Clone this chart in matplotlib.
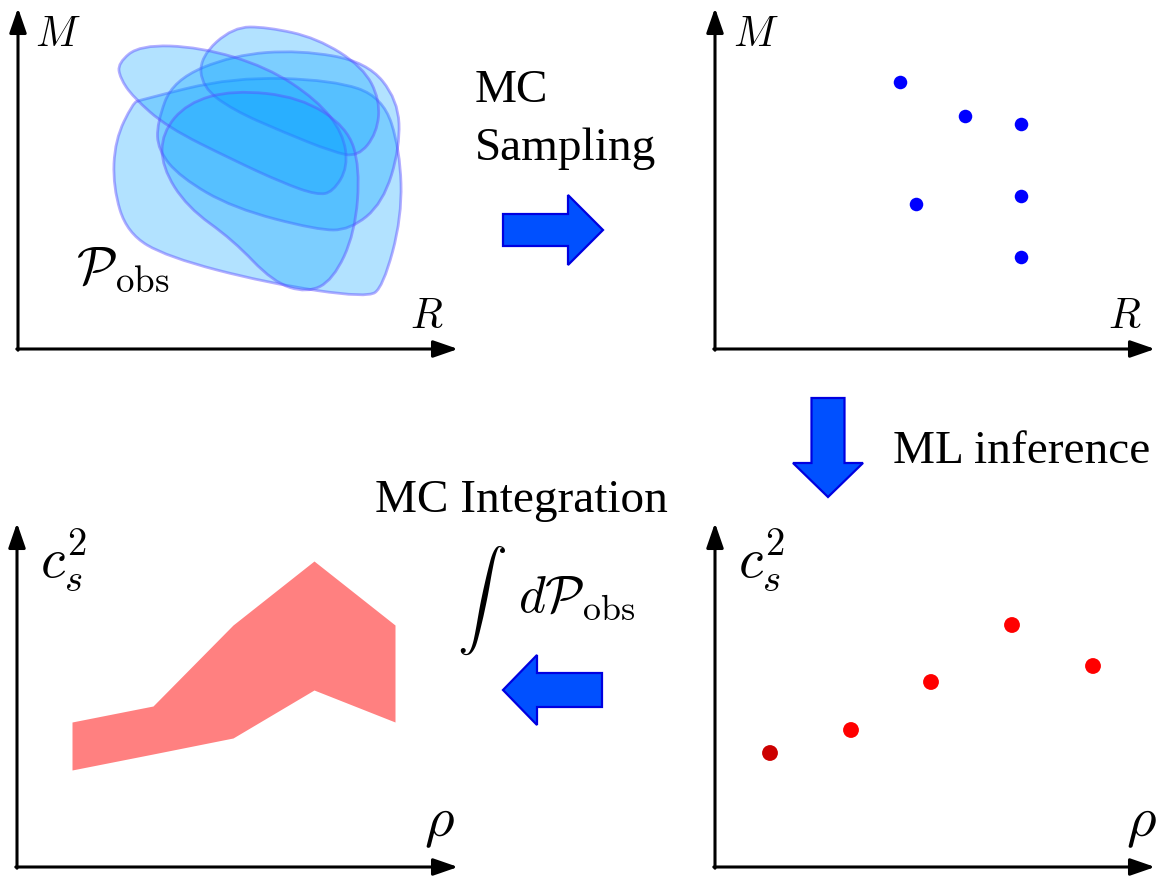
import numpy as np
import matplotlib
matplotlib.use('Agg')
import matplotlib.pyplot as plt
from matplotlib.path import Path
from matplotlib.patches import PathPatch, FancyArrow

plt.rcParams['mathtext.fontset'] = 'cm'
plt.rcParams['font.family'] = ['Liberation Serif', 'DejaVu Serif']

W, H = 1158, 876

# --- top-left: observational posteriors (blob outlines, panel units) ---
blob_outer_x = [122, 215, 315, 365, 382, 384, 365, 349, 249, 149, 109, 95, 97, 115]
blob_outer_y = [249, 272, 269, 252, 199, 132, 62, 51, 66, 92, 116, 162, 209, 246]
blob_long_x = [100, 122, 182, 249, 299, 325, 330, 315, 299, 265, 215, 149, 115, 102]
blob_long_y = [286, 304, 302, 282, 249, 216, 182, 157, 154, 166, 189, 222, 252, 271]
blob_top_x = [215, 182, 184, 215, 265, 315, 340, 359, 362, 345, 299, 249]
blob_top_y = [322, 292, 262, 239, 217, 197, 192, 216, 249, 282, 311, 322]
blob_mid_x = [139, 155, 215, 282, 349, 380, 382, 365, 332, 299, 215, 162, 140]
blob_mid_y = [226, 269, 294, 299, 287, 249, 202, 146, 119, 119, 141, 172, 199]
blob_in_x = [144, 169, 215, 282, 329, 342, 337, 315, 289, 255, 215, 169, 144]
blob_in_y = [216, 246, 259, 252, 222, 182, 116, 69, 56, 67, 109, 142, 182]
blobs = [(blob_outer_x, blob_outer_y), (blob_mid_x, blob_mid_y), (blob_top_x, blob_top_y),
         (blob_long_x, blob_long_y), (blob_in_x, blob_in_y)]

# --- top-right: MC samples in (R, M) ---
samp_R = [185, 250, 306, 201, 306, 306]
samp_M = [267, 233, 225, 145, 153, 92]

# --- bottom: speed of sound vs density ---
rho = [55, 136, 216, 297, 378]
cs2_pred = [114, 137, 185, 242, 201]
cs2_low = [97, 113, 129, 177, 145]
cs2_high = [145, 161, 242, 306, 242]
dot_colors = ['#cc0000', '#ff0000', '#ff0000', '#ff0000', '#ff0000']


def smooth_closed(xs, ys):
    pts = np.column_stack([xs, ys]).astype(float)
    mids = (pts + np.roll(pts, -1, axis=0)) / 2
    verts = [mids[-1]]
    codes = [Path.MOVETO]
    for i in range(len(pts)):
        verts += [pts[i], mids[i]]
        codes += [Path.CURVE3, Path.CURVE3]
    verts.append(mids[-1])
    codes.append(Path.CLOSEPOLY)
    return Path(verts, codes)


def make_panel(left, bottom, w, h):
    ax = fig.add_axes([left / W, (H - bottom) / H, w / W, h / H])
    ax.set_xlim(0, w)
    ax.set_ylim(0, h)
    ax.axis('off')
    style = dict(arrowstyle='-|>,head_length=0.75,head_width=0.26', lw=2.2, color='k',
                 shrinkA=0, shrinkB=0, mutation_scale=20)
    ax.annotate('', xy=(0, h), xytext=(0, -1.2), arrowprops=style, annotation_clip=False)
    ax.annotate('', xy=(w, 0), xytext=(-1.2, 0), arrowprops=style, annotation_clip=False)
    return ax


fig = plt.figure(figsize=(W / 100, H / 100), dpi=100)

ax1 = make_panel(18, 349, 440, 341)
for bx, by in blobs:
    ax1.add_patch(PathPatch(smooth_closed(bx, by), facecolor=(0, 0.63, 1, 0.3),
                            edgecolor=(0.35, 0.3, 1, 0.45), lw=2))

ax2 = make_panel(715, 349, 440, 341)
ax2.scatter(samp_R, samp_M, s=95, color='#0000ff', lw=0, clip_on=False)

ax3 = make_panel(17, 867, 441, 344)
ax3.fill_between(rho, cs2_low, cs2_high, color='#ff8080', lw=0)

ax4 = make_panel(715, 867, 440, 344)
ax4.scatter(rho, cs2_pred, s=130, color=dot_colors, lw=0, clip_on=False)

# overlay in pixel units for arrows and labels
ov = fig.add_axes([0, 0, 1, 1], zorder=10)
ov.set_xlim(0, W)
ov.set_ylim(H, 0)
ov.axis('off')

arrow_kw = dict(length_includes_head=True, facecolor='#0050ff', edgecolor='#0000e0', lw=1.6)
ov.add_patch(FancyArrow(503, 230, 100, 0, width=32, head_width=70, head_length=35, **arrow_kw))
ov.add_patch(FancyArrow(828, 398, 0, 99, width=33, head_width=70, head_length=34, **arrow_kw))
ov.add_patch(FancyArrow(602, 690, -99, 0, width=34, head_width=70, head_length=34, **arrow_kw))

lab = dict(va='baseline', ha='left')
ov.text(35, 46, r'$M$', fontsize=30, **lab)
ov.text(733, 46, r'$M$', fontsize=30, **lab)
ov.text(410, 328, r'$R$', fontsize=30, **lab)
ov.text(1108, 328, r'$R$', fontsize=30, **lab)
ov.text(76, 284, r'$\mathcal{P}_{\rm obs}$', fontsize=38, **lab)
ov.text(40, 577, r'$c_s^2$', fontsize=40, **lab)
ov.text(738, 577, r'$c_s^2$', fontsize=40, **lab)
ov.text(424, 836, r'$\rho$', fontsize=41, **lab)
ov.text(1126, 836, r'$\rho$', fontsize=41, **lab)

ov.text(475, 102, 'MC', fontsize=34, **lab)
ov.text(475, 160, 'Sampling', fontsize=34, **lab)
ov.text(893, 463, 'ML inference', fontsize=34, **lab)
ov.text(375, 512, 'MC Integration', fontsize=34, **lab)
ov.text(457, 617, r'$\int$', fontsize=36, **lab)
ov.text(518, 612, r'$d\mathcal{P}_{\rm obs}$', fontsize=37, **lab)

fig.savefig('out.png', dpi=100)
